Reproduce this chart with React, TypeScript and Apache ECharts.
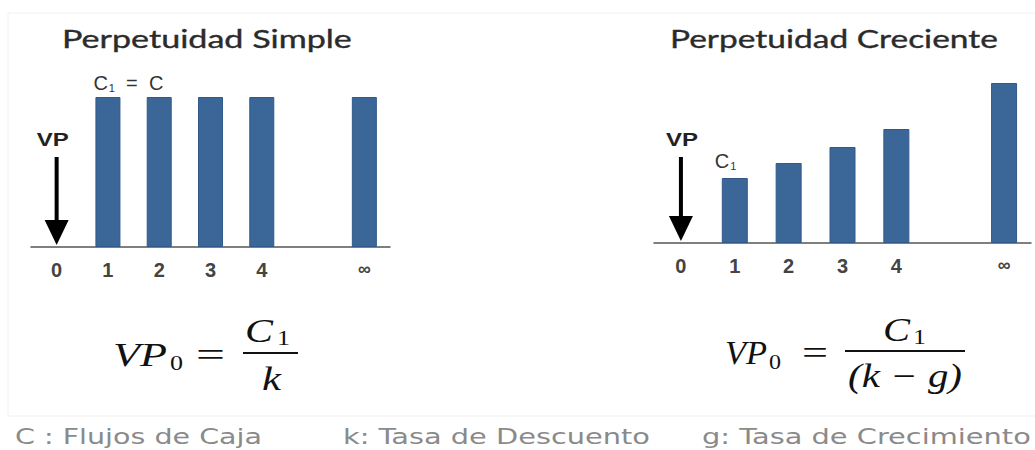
import React, { useEffect, useRef } from "react";
import * as echarts from "echarts";

const periods = ["0", "1", "2", "3", "4", "", "∞"];
const simpleFlows: (number | null)[] = [null, 30, 30, 30, 30, null, 30];
const growingFlows: (number | null)[] = [null, 13, 16, 19.2, 22.8, null, 32];
const chartTitles = ["Perpetuidad Simple", "Perpetuidad Creciente"];
const notes = ["C : Flujos de Caja", "k: Tasa de Descuento", "g: Tasa de Crecimiento"];

const BAR = "#3b6798";
const INK = "#2b2b2b";

let measureCtx: CanvasRenderingContext2D | null = null;
function measure(text: string, font: string): number {
  if (!measureCtx) measureCtx = document.createElement("canvas").getContext("2d");
  measureCtx!.font = font;
  return measureCtx!.measureText(text).width || 1;
}

function fitText(text: string, x0: number, x1: number, y: number, font: string, fill: string, strokeW = 0) {
  const w = measure(text, font);
  const style: any = { text, font, fill, align: "left", textAlign: "left", verticalAlign: "middle", textVerticalAlign: "middle" };
  if (strokeW > 0) {
    style.stroke = fill;
    style.lineWidth = strokeW;
  }
  return {
    type: "text",
    x: x0,
    y,
    scaleX: (x1 - x0) / w,
    silent: true,
    style,
  };
}

function staticGraphics() {
  const serifI = "italic 33px 'Liberation Serif'";
  const serif = "33px 'Liberation Serif'";
  const sub = "22px 'Liberation Serif'";
  const titleFont = "25px Lato";
  const noteFont = "21px 'DejaVu Sans'";
  const g: any[] = [
    {
      type: "rect",
      shape: { x: 8, y: 13, width: 1040, height: 403 },
      style: { fill: "none", stroke: "#f0f0f0", lineWidth: 1 },
      silent: true,
    },
    fitText(chartTitles[0], 62, 352, 38, titleFont, INK, 0.35),
    fitText(chartTitles[1], 670, 998, 38, titleFont, INK, 0.35),
    // left formula
    fitText("VP", 113, 167, 355, serifI, "#111"),
    fitText("0", 170, 183, 363, sub, "#111"),
    fitText("=", 196, 225, 355, serif, "#111"),
    fitText("C", 245, 273, 331, serifI, "#111"),
    fitText("1", 277, 290, 338, sub, "#111"),
    { type: "line", shape: { x1: 243, y1: 353, x2: 298, y2: 353 }, style: { stroke: "#111", lineWidth: 2 } },
    fitText("k", 262, 281, 379, serifI, "#111"),
    // right formula
    fitText("VP", 725, 767, 353, serifI, "#111"),
    fitText("0", 769, 781, 361, sub, "#111"),
    fitText("=", 802, 828, 353, serif, "#111"),
    fitText("C", 883, 910, 330, serifI, "#111"),
    fitText("1", 913, 926, 337, sub, "#111"),
    { type: "line", shape: { x1: 845, y1: 351, x2: 965, y2: 351 }, style: { stroke: "#111", lineWidth: 2 } },
    fitText("(k − g)", 848, 962, 376, serifI, "#111"),
    // notes
    fitText(notes[0], 15, 262, 437, noteFont, "#8a8a8a"),
    fitText(notes[1], 343, 650, 437, noteFont, "#8a8a8a"),
    fitText(notes[2], 702, 1031, 437, noteFont, "#8a8a8a"),
  ];
  return g;
}

function arrowGraphics(x: number, yTop: number, yBase: number, vpCenter: number) {
  const vpFont = "bold 18px 'Liberation Sans'";
  return [
    { type: "line", shape: { x1: x, y1: yTop, x2: x, y2: yBase - 24 }, style: { stroke: "#000", lineWidth: 4 } },
    {
      type: "polygon",
      shape: { points: [[x - 12, yBase - 27], [x + 12, yBase - 27], [x, yBase - 2]] },
      style: { fill: "#000" },
    },
    fitText("VP", vpCenter - 16, vpCenter + 16, yTop - 17, vpFont, "#222"),
  ];
}

function axisLabelFormatter(v: string) {
  return v === "∞" ? "{inf|∞}" : `{d|${v}}`;
}

export default function App() {
  const ref = useRef<HTMLDivElement>(null);
  useEffect(() => {
    if (!ref.current) return;
    const chart = echarts.init(ref.current, undefined, { renderer: "svg" });

    const richSub = {
      c: { fontSize: 20, fontFamily: "'Liberation Sans'", color: "#333" },
      s: { fontSize: 11, fontFamily: "'Liberation Sans'", color: "#333", verticalAlign: "bottom", padding: [0, 0, 0, 1] },
    };
    const labelC1 = {
      show: true,
      position: [-2, -4],
      align: "left",
      verticalAlign: "bottom",
      formatter: "{c|C}{s|1}{c|  =  C}",
      rich: richSub,
    };
    const labelC1only = {
      show: true,
      position: [-7, -7],
      align: "left",
      verticalAlign: "bottom",
      formatter: "{c|C}{s|1}",
      rich: richSub,
    };

    const xAxisBase = (gridIndex: number) => ({
      type: "category",
      gridIndex,
      data: periods,
      axisTick: { show: false },
      axisLine: { lineStyle: { color: "#555", width: 1.5 } },
      axisLabel: {
        interval: 0,
        margin: 13,
        fontSize: 20,
        fontWeight: "bold",
        fontFamily: "'Liberation Sans'",
        color: "#444",
        formatter: axisLabelFormatter,
        rich: {
          d: { fontSize: 20, fontWeight: "bold", fontFamily: "'Liberation Sans'", color: "#444" },
          inf: { fontSize: 18, fontWeight: "bold", fontFamily: "'Liberation Sans'", color: "#444" },
        },
      },
    });
    const yAxisBase = (gridIndex: number) => ({
      type: "value",
      gridIndex,
      min: 0,
      max: 40,
      show: false,
      splitLine: { show: false },
    });

    chart.setOption({
      animation: false,
      backgroundColor: "#ffffff",
      grid: [
        { left: 31, top: 47, width: 359, height: 200 },
        { left: 654, top: 43, width: 377, height: 200 },
      ],
      xAxis: [xAxisBase(0), xAxisBase(1)],
      yAxis: [yAxisBase(0), yAxisBase(1)],
      series: [
        {
          type: "bar",
          xAxisIndex: 0,
          yAxisIndex: 0,
          barWidth: 25,
          itemStyle: { color: BAR, borderColor: "#31598a", borderWidth: 1 },
          data: simpleFlows.map((v, i) => (i === 1 ? { value: v, label: labelC1 } : v)),
        },
        {
          type: "bar",
          xAxisIndex: 1,
          yAxisIndex: 1,
          barWidth: 26,
          itemStyle: { color: BAR, borderColor: "#31598a", borderWidth: 1 },
          data: growingFlows.map((v, i) => (i === 1 ? { value: v, label: labelC1only } : v)),
        },
      ],
    });

    const l0 = chart.convertToPixel({ xAxisIndex: 0, yAxisIndex: 0 }, ["0", 0]) as number[];
    const lTop = chart.convertToPixel({ xAxisIndex: 0, yAxisIndex: 0 }, ["0", 18]) as number[];
    const r0 = chart.convertToPixel({ xAxisIndex: 1, yAxisIndex: 1 }, ["0", 0]) as number[];
    const rTop = chart.convertToPixel({ xAxisIndex: 1, yAxisIndex: 1 }, ["0", 17.2]) as number[];

    chart.setOption({
      graphic: [
        ...staticGraphics(),
        ...arrowGraphics(l0[0], lTop[1], l0[1], l0[0] - 4),
        ...arrowGraphics(r0[0], rTop[1], r0[1], r0[0] + 1),
      ],
    });

    return () => chart.dispose();
  }, []);

  return (
    <div
      ref={ref}
      style={{ position: "fixed", left: 0, top: 0, width: 1035, height: 450, background: "#fff" }}
    />
  );
}
